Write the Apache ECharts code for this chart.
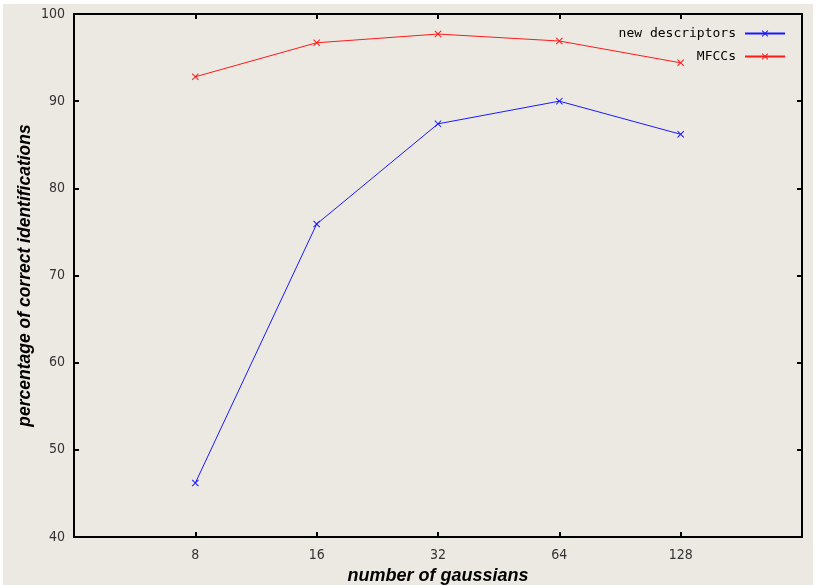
<!DOCTYPE html>
<html>
<head>
<meta charset="utf-8">
<script src="https://cdn.jsdelivr.net/npm/echarts@6/dist/echarts.min.js"></script>
<style>
  html, body { margin: 0; padding: 0; background: #ffffff; }
  #main { position: absolute; left: 3px; top: 4px; width: 810px; height: 581px; }
</style>
</head>
<body>
<div id="main"></div>
<script>
// number of gaussians on the x axis
var gaussians = ['8', '16', '32', '64', '128'];
// percentage of correct identifications
var newDescriptors = [46.2, 75.9, 87.4, 90.0, 86.2];
var mfccs = [92.8, 96.7, 97.7, 96.9, 94.4];
var yTicks = [40, 50, 60, 70, 80, 90, 100];

// empty slots on both sides so the points sit away from the frame
var xCats = [''].concat(gaussians).concat(['']);
function pad(arr) { return [null].concat(arr).concat([null]); }

// small "x" marker
var cross = 'path://M0,1L1,0L5,4L9,0L10,1L6,5L10,9L9,10L5,6L1,10L0,9L4,5Z';
var tickFont = { color: '#333', fontSize: 14, fontFamily: 'DejaVu Sans Condensed, Liberation Sans Narrow, sans-serif' };
var nameFont = { color: '#000', fontSize: 18, fontWeight: 'bold', fontStyle: 'italic', fontFamily: 'Liberation Sans, Arial, sans-serif' };

var myChart = echarts.init(document.getElementById('main'));
myChart.setOption({
    backgroundColor: '#ece9e2',
    animation: false,
    grid: { left: 71, top: 10, right: 11, bottom: 48, outerBoundsMode: 'none', containLabel: false, show: true, borderColor: '#000', borderWidth: 2, backgroundColor: 'transparent' },
    legend: {
        orient: 'vertical',
        right: 22,
        top: 18,
        align: 'right',
        itemWidth: 40,
        itemHeight: 8,
        itemGap: 10,
        textStyle: { color: '#000', fontSize: 13, fontFamily: 'DejaVu Sans Mono, monospace', padding: [0, 4, 0, 0] },
        data: ['new descriptors', 'MFCCs']
    },
    xAxis: [{
        type: 'category',
        data: xCats,
        boundaryGap: false,
        name: 'number of gaussians',
        nameLocation: 'middle',
        nameGap: 30,
        nameTextStyle: nameFont,
        axisLine: { lineStyle: { color: '#000', width: 2 } },
        axisTick: { inside: true, length: 5, lineStyle: { color: '#000', width: 2 } },
        axisLabel: Object.assign({ margin: 11 }, tickFont),
        splitLine: { show: false }
    }, {
        type: 'category',
        data: xCats,
        boundaryGap: false,
        position: 'top',
        axisLine: { lineStyle: { color: '#000', width: 2 } },
        axisTick: { inside: true, length: 5, lineStyle: { color: '#000', width: 2 } },
        axisLabel: { show: false },
        splitLine: { show: false }
    }],
    yAxis: [{
        type: 'value',
        min: yTicks[0],
        max: yTicks[yTicks.length - 1],
        interval: 10,
        name: 'percentage of correct identifications',
        nameLocation: 'middle',
        nameGap: 40,
        nameMoveOverlap: false,
        nameTextStyle: Object.assign({}, nameFont, { fontSize: 17.5 }),
        axisLine: { show: true, lineStyle: { color: '#000', width: 2 } },
        axisTick: { show: true, inside: true, length: 5, lineStyle: { color: '#000', width: 2 } },
        axisLabel: Object.assign({ margin: 9 }, tickFont),
        splitLine: { show: false }
    }, {
        type: 'value',
        min: yTicks[0],
        max: yTicks[yTicks.length - 1],
        interval: 10,
        position: 'right',
        axisLine: { show: true, lineStyle: { color: '#000', width: 2 } },
        axisTick: { show: true, inside: true, length: 5, lineStyle: { color: '#000', width: 2 } },
        axisLabel: { show: false },
        splitLine: { show: false }
    }],
    series: [{
        name: 'new descriptors',
        type: 'line',
        data: pad(newDescriptors),
        symbol: cross,
        symbolSize: 7,
        showAllSymbol: true,
        color: '#1a1aff',
        lineStyle: { width: 1, color: '#1a1aff' },
        itemStyle: { color: '#1a1aff' }
    }, {
        name: 'MFCCs',
        type: 'line',
        data: pad(mfccs),
        symbol: cross,
        symbolSize: 7,
        showAllSymbol: true,
        color: '#ff1a1a',
        lineStyle: { width: 1, color: '#ff1a1a' },
        itemStyle: { color: '#ff1a1a' }
    }]
});
</script>
</body>
</html>
